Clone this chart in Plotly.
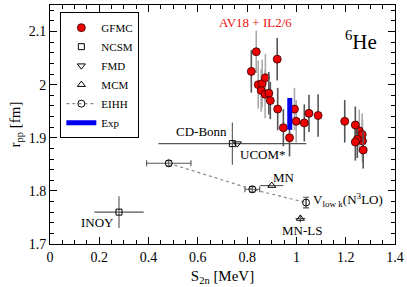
import plotly.graph_objects as go

# ---------------- data ----------------
gfmc_s = [0.817, 0.837, 0.922, 0.845, 0.861, 0.874, 0.857, 0.873, 0.888, 0.894,
          0.924, 0.947, 0.992, 0.972, 0.999, 1.032, 1.051, 1.088, 1.196, 1.239,
          1.255, 1.267, 1.247, 1.239, 1.268, 1.271]
gfmc_r = [2.025, 2.062, 2.048, 2.000, 2.002, 2.013, 1.989, 1.982, 1.984, 1.970,
          1.954, 1.919, 1.954, 1.900, 1.931, 1.928, 1.946, 1.942, 1.931, 1.924,
          1.913, 1.906, 1.897, 1.892, 1.894, 1.877]
gfmc_err = [0.040, 0.040, 0.040, 0.045, 0.045, 0.045, 0.040, 0.045, 0.040, 0.035,
            0.040, 0.035, 0.040, 0.035, 0.040, 0.035, 0.035, 0.040, 0.040, 0.035,
            0.040, 0.040, 0.035, 0.035, 0.040, 0.035]
gfmc_light = [False, True, False, True, True, True, True, True, False, False,
              False, False, True, False, True, False, False, False, False, False,
              True, True, False, False, True, False]

ncsm_s = [0.28, 0.74]
ncsm_r = [1.760, 1.889]
ncsm_sx = [0.10, 0.30]
ncsm_ry = [0.030, 0.040]

fmd_s = [0.760]
fmd_r = [1.889]

mcm_s = [0.900, 1.016]
mcm_r = [1.810, 1.748]
mcm_sx = [0.047, 0.020]
mcm_ry = [0.0, 0.007]

eihh_s = [0.482, 0.821, 1.039]
eihh_r = [1.852, 1.803, 1.778]
eihh_sx = [0.090, 0.030, 0.0]
eihh_ry = [0.005, 0.005, 0.010]

exp_s = 0.973
exp_r = 1.945
exp_err = 0.030

# labels: (text, s, r, xanchor)
labels = [
    ("CD-Bonn", 0.725, 1.911, "right"),
    ("UCOM*", 0.761, 1.868, "left"),
    ("MN", 0.951, 1.826, "center"),
    ("V<sub>low k</sub>(N<sup>3</sup>LO)", 1.061, 1.782, "left"),
    ("MN-LS", 1.022, 1.726, "center"),
    ("INOY", 0.194, 1.741, "center"),
]

FONT = "Liberation Serif"
fig = go.Figure()

# GFMC: two groups of error bar shades
for light, show in [(True, False), (False, True)]:
    xs = [s for s, l in zip(gfmc_s, gfmc_light) if l == light]
    ys = [r for r, l in zip(gfmc_r, gfmc_light) if l == light]
    es = [e for e, l in zip(gfmc_err, gfmc_light) if l == light]
    fig.add_trace(go.Scatter(
        x=xs, y=ys, mode="markers", name="GFMC", showlegend=show,
        error_y=dict(type="data", array=es, color="#aaaaaa" if light else "#555555",
                     thickness=1.6, width=0),
        marker=dict(symbol="circle", size=8, color="#ee0000",
                    line=dict(color="#330000", width=0.8)),
    ))

# Exp bar
fig.add_trace(go.Scatter(
    x=[exp_s, exp_s], y=[exp_r - exp_err, exp_r + exp_err], mode="lines",
    name="Exp", line=dict(color="#0000ee", width=5), showlegend=False))

# NCSM
fig.add_trace(go.Scatter(
    x=ncsm_s, y=ncsm_r, mode="markers", name="NCSM",
    error_x=dict(type="data", array=ncsm_sx, color="#555555", thickness=1.1, width=0),
    error_y=dict(type="data", array=ncsm_ry, color="#555555", thickness=1.1, width=0),
    marker=dict(symbol="square-open", size=6, color="black", line=dict(width=1))))

# FMD
fig.add_trace(go.Scatter(
    x=fmd_s, y=fmd_r, mode="markers", name="FMD",
    marker=dict(symbol="triangle-down-open", size=7, color="black", line=dict(width=1))))

# MCM
fig.add_trace(go.Scatter(
    x=mcm_s, y=mcm_r, mode="markers", name="MCM",
    error_x=dict(type="data", array=mcm_sx, color="#555555", thickness=1.1, width=0),
    error_y=dict(type="data", array=mcm_ry, color="#555555", thickness=1.1, width=0),
    marker=dict(symbol="triangle-up-open", size=7, color="black", line=dict(width=1))))

# EIHH
fig.add_trace(go.Scatter(
    x=eihh_s, y=eihh_r, mode="lines+markers", name="EIHH",
    line=dict(color="#888888", width=1.2, dash="dot"),
    error_x=dict(type="data", array=eihh_sx, color="#555555", thickness=1.1, width=3),
    error_y=dict(type="data", array=eihh_ry, color="#555555", thickness=1.1, width=3),
    marker=dict(symbol="circle-open", size=7, color="black", line=dict(width=1))))

# Exp legend entry (after EIHH)
fig.add_trace(go.Scatter(
    x=[None], y=[None], mode="lines", name="Exp",
    line=dict(color="#0000ee", width=5)))

for text, s, r, anc in labels:
    fig.add_annotation(x=s, y=r, text=text, showarrow=False, xanchor=anc,
                       font=dict(family=FONT, size=13, color="black"))

fig.add_annotation(x=0.834, y=2.118, text="AV18 + IL2/6", showarrow=False,
                   font=dict(family=FONT, size=13, color="#ee1111"))
fig.add_annotation(x=1.26, y=2.084, text="<sup>6</sup>He", showarrow=False,
                   font=dict(family=FONT, size=21, color="black"))

axis_common = dict(
    showgrid=False, zeroline=False, showline=True, linecolor="black", linewidth=1,
    mirror="allticks", ticks="inside", ticklen=7, tickcolor="black",
    tickfont=dict(family=FONT, size=14, color="black"), automargin=False,
)
fig.update_xaxes(range=[0, 1.4], dtick=0.2, tick0=0,
                 minor=dict(dtick=0.05, ticks="inside", ticklen=4, tickcolor="black"),
                 title=dict(text="S<sub>2n</sub> [MeV]", font=dict(family=FONT, size=15),
                            standoff=6),
                 tickformat="~g", **axis_common)
fig.update_yaxes(range=[1.7, 2.15], dtick=0.1, tick0=1.7,
                 minor=dict(dtick=0.02, ticks="inside", ticklen=4, tickcolor="black"),
                 title=dict(text="r<sub>pp</sub> [fm]", font=dict(family=FONT, size=15),
                            standoff=4),
                 tickformat="~g", **axis_common)

fig.update_layout(
    width=407, height=287,
    margin=dict(l=50, r=12, t=5, b=43),
    plot_bgcolor="white", paper_bgcolor="white",
    font=dict(family=FONT, color="black"),
    legend=dict(x=0.03, y=0.97, xanchor="left", yanchor="top",
                bordercolor="black", borderwidth=1, bgcolor="white",
                font=dict(family=FONT, size=11), tracegroupgap=0,
                itemwidth=30),
)

fig.write_html("out.html", config={"displayModeBar": False},
               post_script="document.body.style.margin='0px';")
